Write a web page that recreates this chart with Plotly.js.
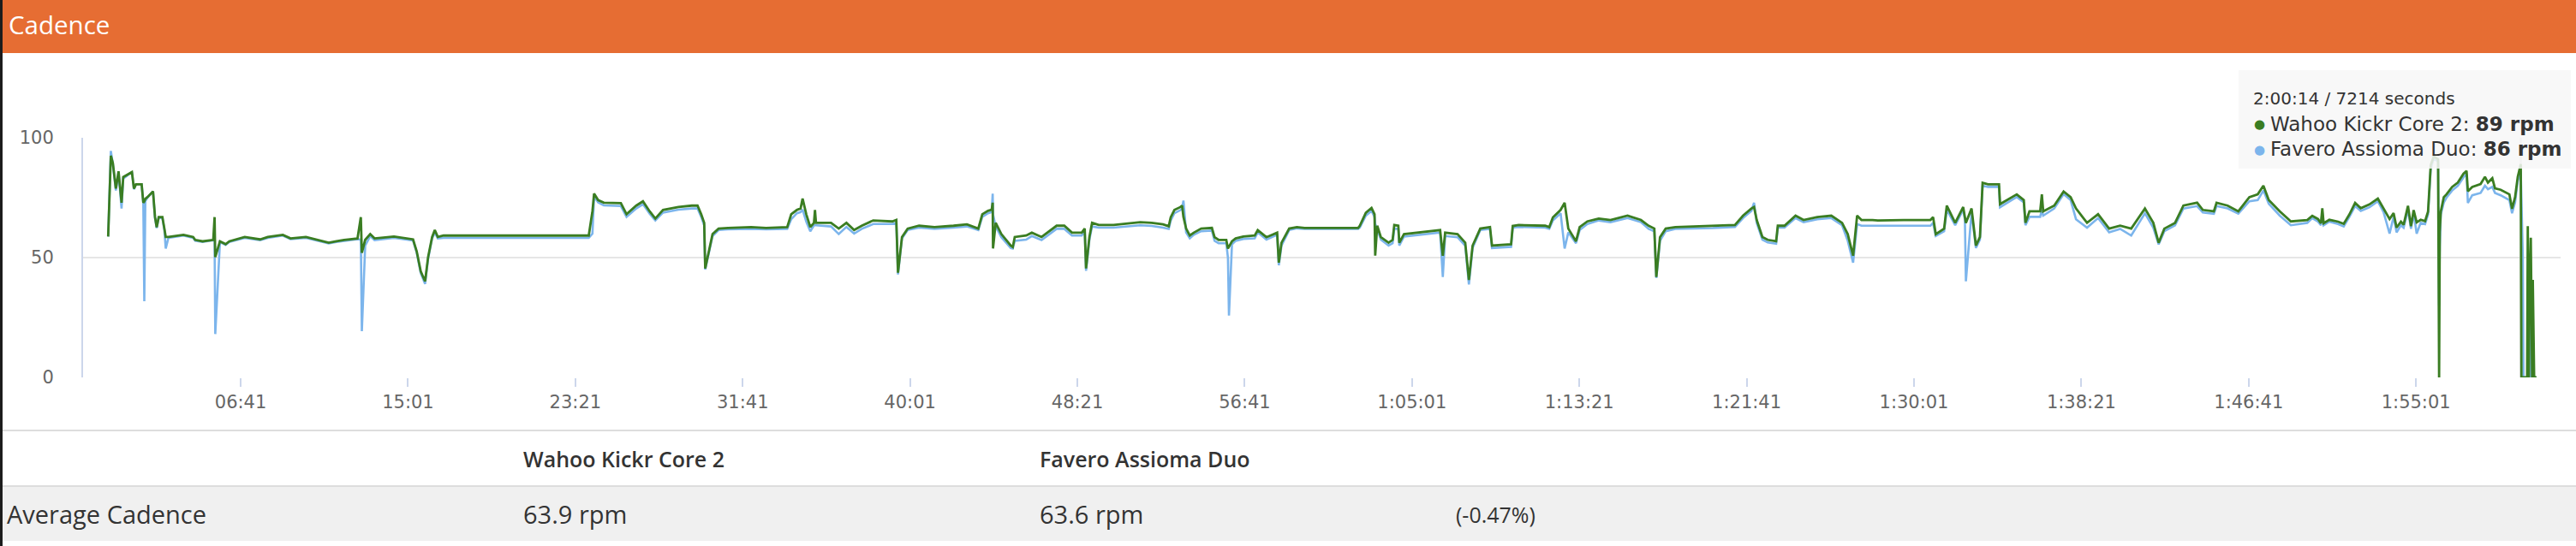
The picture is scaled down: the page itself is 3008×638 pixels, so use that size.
<!DOCTYPE html>
<html><head><meta charset="utf-8">
<script src="https://cdn.plot.ly/plotly-3.0.1.min.js"></script>
<style>html,body{margin:0;padding:0;background:#fff;overflow:hidden}#chart{width:3008px;height:638px}</style>
</head><body><div id="chart"></div>
<script>
// ---- data ----
const seconds = [
 5,13,19,28,36,45,50,65,76,82, 88,105,110,113,116,122,139,145,150,156,
 167,173,177,185,230,259,265,287,319,323, 325,339,356,367,413,459,482,527,550,596,
 630,664,687,710,750,760,763,773,788,801, 859,916,927,939,952,961,973,981,990,1007,
 1100,1200,1300,1400,1441,
 1452,1457,1469,1486,1537,1554,1583,1603,1623,1640, 1663,1709,1749,1766,1777,1786,1789,1800,1811,1829,
 1857,1926,1971,2034,2046,2063,2074,2080,2091,2103, 2114,2117,2120,2165,2188,2211,2234,2257,2291,2348,
 2360,2363,2365,2377,2394,2428,2474,2531,2571,2605, 2617,2634,2645,2648,2649,2657,2674,2702,2708,2714,
 2748,2765,2794,2839,2862,2885,2914,2923,2927,2937, 2945,2965,3009,
 3089,3123,3157,3174,3180,3191,3209,3214,3218,3226, 3237,3249,3271,3303,3311,3323,3346,3351,3354,3363,
 3374,3397,3431,3440,3466,3488,3498,3503,3511,3534, 3557,3580,3740,3745,3763,3780,3789,3791,3797,3808,
 3831,3843,3848,3860,3863,3877,3922,3985,3993,4000, 4037,4060,4071,4082,4105,4134,4140,4197,4202,4220,
 4299,4311,4322,4345,4357,4368,4391,4402,4425,4459, 4494,4545,4585,4608,4625,4631,4642,4659,4688,4800,
 4866,4890,4915,4923,4931,4948,4964,4989,4994,5014, 5047,5071,5112,5154,5186,5203,5219,5231,5244,5277,
 5293,5370,5450,5458,5466,5491,5499,5524,5548,5553, 5556,5573,5586,5598,5606,5622,5655,5658,5688,5708,
 5729,5734,5746,5778,5783,5787,5820,5848,5869,5885, 5918,5951,5984,6017,6050,6091,6116,6132,6149,6181,
 6206,6247,6264,6297,6305,6338,6370,6403,6428,6445, 6461,6494,6527,6576,
 6591,6608,6617,6621,6625,6642,6668,6685,6702,6719, 6736,6762,6787,6804,6822,6834,6843,6856,6864,6877,
 6886,6894,6903,6915,6928,6937,6945,6954,6967,6970, 6972,6975,6984,6992,7009,7026,7043,7052,7056,7069,
 7094,7107,7116,7129,7137,7154,7180,7188,7197,7205, 7214,7216,7220,7222,7233,7235,7238,7240,7244,7248,
 7250,7254,7261
];
const wahooRpm = [
 58.8,92.5,89.5,78.8,86,72.9,83.6,84.8,85.7,78.8, 80.6,80.6,72.9,73.5,74.5,75.2,77.6,66.9,62.7,66.9,
 66.9,62.1,58.6,58.6,59.5,58.6,57.4,56.8,57.4,66.9, 50.2,56.8,55.6,56.8,58.6,57.6,58.6,59.5,58,58.6,
 57.4,56.2,56.8,57.4,58,66.9,52,57.4,59.8,58, 58.8,57.6,52.6,44.3,40.1,50.2,58.6,61.5,58.6,59.2,
 59.2,59.2,59.2,59.2,59.2,
 69.3,76.7,74,72.9,72.7,68.1,71.7,73.5,69.3,66.3, 69.9,71.1,71.7,71.7,68.1,64.5,45.5,52.6,59.8,62.1,
 62.4,62.7,62.4,62.7,68.1,69.9,70.5,74.6,68.1,62.7, 64.5,69.9,64.5,64.5,62.1,64.5,61.5,63.3,65.5,65.1,
 65.7,52.6,43.7,58.6,62.1,63.3,62.7,63.3,63.9,62.1, 68.1,69.5,70,72.9,53.8,64.5,59.8,55,54.4,58.6,
 59.2,60.4,58.6,63.3,63.3,60.4,60.4,62.1,45.5,58.6, 64.5,63.6,63.6,
 64.8,64.5,63.9,63.1,66.8,69.9,71.1,71.7,67,62.1, 59.2,60.4,62.1,62.4,58.5,57.4,57.4,53.8,54.5,56.8,
 58,58.8,59.2,61.5,58.5,59.8,60.4,47.9,56.2,62.1, 62.7,62.4,62.4,63.3,68.7,70.7,68.1,50.8,63.3,58.5,
 56.2,57.4,63.6,63.3,56.2,59.8,60.4,61.5,50.8,60.4, 59.8,56.2,40.7,55,62.1,62.7,55,55.6,63.2,63.6,
 63.3,62.7,66.8,69.9,72.9,62.1,56.8,62.7,65.1,66.3, 65.7,67.5,65.7,63.3,62.1,41.9,58.5,62.1,62.7,63.1,
 63.6,67.5,70.5,71.1,65.7,58.6,57.4,56.8,63.3,63.3, 67.5,65.7,66.9,67.5,64.5,59.8,50.8,67.5,65.7,65.7,
 65.5,65.7,65.7,66.9,59.8,62.1,71.7,64.5,71.1,66.9, 64.5,70.5,55,58.6,81.2,80.6,80.6,72.3,74.6,76.4,
 74,64.5,69.3,69.3,76.4,69.3,71.7,77.6,75.2,70.5, 64.5,68.1,62.1,63.3,62.1,70.5,64.5,56.2,62.1,64.5,
 71.7,72.9,69.9,69.3,72.9,71.7,69.3,75.2,76.4,80, 74,69.3,65.1,65.7,
 67.4,66.1,64.3,70.6,64.3,65.8,65,64.1,68,72.8, 70.6,72.2,74.6,70.4,66.1,68.6,62.5,65,63.7,71.6,
 63.1,69.8,64.7,65.8,65.2,69.2,88.6,92.2,91,0, 60.7,69.2,75.2,76.4,79.5,81.3,85,86.2,77.7,79.5,
 80.7,83.7,81.3,83.1,78.9,78.3,76.4,70.4,75.2,83.7, 89,0,0,0,0,63.1,0,36.4,58.3,0,
 40.7,0,0
];
const faveroRpm = [
 58.8,94.5,89,78,85.5,70.5,83,84.5,85.7,78.5, 80.6,80.6,72.9,31.8,73.5,75,77.6,66.5,62.3,66.5,
 66.5,61.5,53.8,58.2,59.2,58.2,57,56.5,57.2,57, 18.1,56.5,55.3,56.5,58.2,57.3,58.2,59.2,57.7,58.2,
 57,55.9,56.5,57,57.7,57.5,19.3,55,59,57.3, 58.2,57.2,52,43.5,39,49.5,58,60.5,58,58.2,
 58.2,58.2,58.2,58.2,58.2,
 60,75.5,73,71.8,71.5,67,70.5,72.3,68.3,65.5, 68.8,70,70.5,70.5,67,63.5,45,52,59,61.5,
 61.8,62,61.8,62,66,68.5,69,70,65,61, 63.5,63.5,63.5,63,59.8,62.8,60,62,64,64,
 64.5,52,43,58,61.5,62.5,62,62.5,63,61.5, 67,68.5,69,76.7,68,63,58.5,54,53.8,57,
 57.5,59,57.3,62,62,59.2,59.2,61,44.5,57.5, 63,62.5,62.5,
 63.5,63.2,62.5,62,65.5,68.5,69.8,70.5,73.8,60.5, 58,59.5,61,61.3,57,56,56,50,25.8,55.5,
 57,57.8,58,60.5,57.5,58.8,59.5,46.8,55,61.5, 62.2,62,62,62.5,67.5,69.5,67,64,62,57.5,
 55,56,62,62,55,58.8,59.5,60.5,41.9,59, 58.5,55,38.8,54,61.5,62,54,54.5,62.5,62.8,
 62.5,62,65.5,68.5,53.8,60.5,56,61.5,64,65.5, 64.8,66.5,64.8,62,61,41.5,57,61,62,62.3,
 62.8,66.5,69.5,72.9,64.5,57.5,56.3,55.8,62.5,62.5, 66.5,64.8,66,66.5,63.5,57,47.9,64,63.3,63.3,
 63.3,63.3,63.3,64.5,59,61,70,63.5,70,66, 40.1,69,54,57.5,80,79.5,79.5,71,73.5,75.3,
 73,63.5,67,67,70,67.5,70.5,76.5,74,66, 62.5,66.5,60.5,62,59.2,68.5,62.5,55.5,61,63.5,
 70.5,71.5,68.8,68.3,71.5,70.5,68.3,73.5,74,78, 72.5,67.5,63.5,64.5,
 66.5,65,63.5,69,63.5,65,64,63,67,71.5, 69.5,71,73.5,69,60,67,60.5,63.5,62.5,70,
 62,68.5,60,64.5,64,68,87,91.5,90,30, 55,68,73,75,78,80,83.5,85,72.8,76,
 77,80,78.5,79.5,77,76,74,68.5,73,82, 86,70,51,0,0,0,0,36.4,0,0,
 0,0,0
];
const tickSeconds = [401,901,1401,1901,2401,2901,3401,3901,4401,4901,5401,5901,6401,6901];
const tickLabels = ['06:41','15:01','23:21','31:41','40:01','48:21','56:41','1:05:01','1:13:21','1:21:41','1:30:01','1:38:21','1:46:41','1:55:01'];
const yTicks = [0,50,100];
const seriesNames = ['Wahoo Kickr Core 2','Favero Assioma Duo'];
const averageValues = ['63.9 rpm','63.6 rpm'];
const averageDiff = '(-0.47%)';
const rowLabel = 'Average Cadence';
const panelTitle = 'Cadence';
const hoverSecond = 7214;
const hoverHeader = '2:00:14 / 7214 seconds';
const hoverValues = ['89 rpm','86 rpm'];

if (seconds.length !== wahooRpm.length || seconds.length !== faveroRpm.length) {
  console.error('length mismatch', seconds.length, wahooRpm.length, faveroRpm.length);
}

// ---- layout helpers (pixel -> paper) ----
const W = 3008, H = 638, L = 97, R = 2990, T = 161, B = 441;
const px = x => (x - L) / (R - L);
const py = y => (B - y) / (B - T);
const GREEN = '#3a7d22', BLUE = '#7cb5ec';
const SANS = 'Open Sans, Noto Sans, sans-serif';
const AXF = 'DejaVu Sans, sans-serif';

function ann(text, x, y, size, color, family, weight, anchor) {
  return {text: text, xref: 'paper', yref: 'paper', x: px(x), y: py(y),
    xanchor: anchor || 'left', yanchor: 'middle', showarrow: false,
    font: {size: size, color: color, family: family, weight: weight || 400}};
}

const traces = [
  {x: seconds, y: faveroRpm, type: 'scatter', mode: 'lines', name: seriesNames[1],
   line: {color: BLUE, width: 2.6}},
  {x: seconds, y: wahooRpm, type: 'scatter', mode: 'lines', name: seriesNames[0],
   line: {color: GREEN, width: 2.8}}
];

const shapes = [
  {type: 'rect', xref: 'paper', yref: 'paper', x0: px(0), x1: px(3), y0: py(0), y1: py(H), fillcolor: '#1c1c1c', line: {width: 0}},
  {type: 'rect', xref: 'paper', yref: 'paper', x0: px(3), x1: px(W), y0: py(0), y1: py(62), fillcolor: '#e66d33', line: {width: 0}},
  {type: 'line', xref: 'paper', yref: 'paper', x0: px(3), x1: px(W), y0: py(503), y1: py(503), line: {color: '#dddddd', width: 2}},
  {type: 'rect', xref: 'paper', yref: 'paper', x0: px(3), x1: px(W), y0: py(568), y1: py(632), fillcolor: '#f0f0f0', line: {width: 0}},
  {type: 'line', xref: 'paper', yref: 'paper', x0: px(3), x1: px(W), y0: py(568), y1: py(568), line: {color: '#dddddd', width: 2}},
  {type: 'line', xref: 'x', yref: 'paper', x0: hoverSecond, x1: hoverSecond, y0: 0, y1: 1, line: {color: '#cccccc', width: 2}, layer: 'below'},
  {type: 'rect', xref: 'paper', yref: 'paper', x0: px(2614), x1: px(3002), y0: py(82), y1: py(197), fillcolor: 'rgba(247,247,247,0.85)', line: {width: 0}, layer: 'above'}
];

const annotations = [
  ann(panelTitle, 8, 29, 29.5, '#ffffff', SANS, 400),
  ann(seriesNames[0], 609, 536, 25, '#333333', SANS, 600),
  ann(seriesNames[1], 1212, 536, 25, '#333333', SANS, 600),
  ann(rowLabel, 6, 600, 29, '#333333', SANS, 500),
  ann(averageValues[0], 609, 600, 29, '#333333', SANS, 500),
  ann(averageValues[1], 1212, 600, 29, '#333333', SANS, 500),
  ann(averageDiff, 1698, 601, 25, '#333333', SANS, 500),
  ann(hoverHeader, 2629, 115, 20, '#333333', AXF, 400),
  ann('●', 2630, 145, 15, GREEN, AXF, 400),
  ann(seriesNames[0] + ': <b>' + hoverValues[0] + '</b>', 2649, 145, 23, '#333333', AXF, 400),
  ann('●', 2630, 175, 15, BLUE, AXF, 400),
  ann(seriesNames[1] + ': <b>' + hoverValues[1] + '</b>', 2649, 174, 23, '#333333', AXF, 400)
];

const layout = {
  width: W, height: H, autosize: false,
  margin: {l: L, r: W - R, t: T, b: H - B, pad: 0},
  paper_bgcolor: '#ffffff', plot_bgcolor: 'rgba(0,0,0,0)',
  showlegend: false, hovermode: false,
  xaxis: {range: [-70, 7333], tickvals: tickSeconds, ticktext: tickLabels,
    ticks: 'outside', ticklen: 10, tickwidth: 2, tickcolor: '#ccd6eb',
    showgrid: false, zeroline: false, showline: false,
    tickfont: {family: AXF, size: 21, color: '#666666'}},
  yaxis: {range: [0, 100], tickvals: yTicks, ticks: '',
    showgrid: true, gridcolor: '#e6e6e6', gridwidth: 2, zeroline: false,
    showline: true, linecolor: '#ccd6eb', linewidth: 2,
    ticklabelstandoff: 28,
    tickfont: {family: AXF, size: 21, color: '#666666'}},
  shapes: shapes, annotations: annotations
};

Plotly.newPlot('chart', traces, layout, {staticPlot: true, displayModeBar: false});
</script>
</body></html>
